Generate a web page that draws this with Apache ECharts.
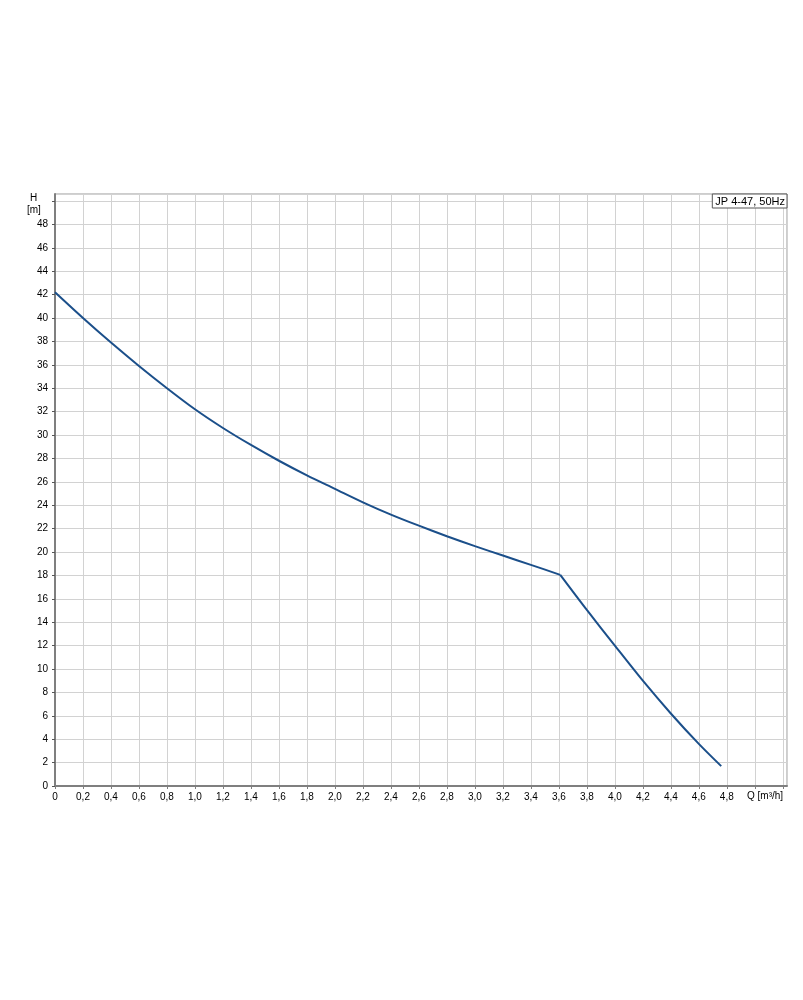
<!DOCTYPE html>
<html>
<head>
<meta charset="utf-8">
<script src="https://cdn.jsdelivr.net/npm/echarts@6/dist/echarts.min.js"></script>
<style>
html,body{margin:0;padding:0;background:#fff;}
#chart{width:803px;height:1000px;}
</style>
</head>
<body>
<div id="chart"></div>
<script>
var seriesName = 'JP 4-47, 50Hz';
// segment before the kink and after it (kink point shared)
var flowQ1 = [0, 0.2, 0.4, 0.6, 0.8, 1.0, 1.2, 1.4, 1.6, 1.8, 2.0, 2.2, 2.4, 2.6, 2.8, 3.0, 3.2, 3.4, 3.61];
var headH1 = [42.2, 40.0, 37.9, 35.9, 34.0, 32.2, 30.6, 29.15, 27.8, 26.55, 25.4, 24.25, 23.2, 22.25, 21.35, 20.5, 19.7, 18.9, 18.05];
var flowQ2 = [3.61, 3.8, 4.0, 4.2, 4.4, 4.6, 4.76];
var headH2 = [18.05, 15.05, 12.0, 9.0, 6.2, 3.6, 1.7];
var xAxisMax = 5.23, xLabelMax = 4.8;
var yAxisMax = 50.6, yLabelMax = 48;
var xAxisTitle = 'Q [m³/h]';
var yAxisTitle = 'H';
var yAxisUnit = '[m]';

function pairs(xs, ys) { return xs.map(function (q, i) { return [q, ys[i]]; }); }

var chart = echarts.init(document.getElementById('chart'));
var font = 'Liberation Sans, Arial, sans-serif';
var lineColor = '#1b4f8a';
chart.setOption({
  animation: false,
  backgroundColor: '#fff',
  grid: {left: 55, right: 16, top: 194, bottom: 214, show: true, borderColor: '#9a9a9a', borderWidth: 1, backgroundColor: 'transparent'},
  legend: {
    data: [{name: seriesName, icon: 'none'}],
    right: 16, top: 194, itemWidth: 0, itemHeight: 0, itemGap: 0,
    padding: [2, 2, 1, 0], borderColor: '#555', borderWidth: 1, backgroundColor: '#fff',
    selectedMode: false,
    textStyle: {fontFamily: font, fontSize: 11, color: '#000', padding: [0, 0, 0, -2]}
  },
  xAxis: {
    type: 'value', min: 0, max: xAxisMax, interval: 0.2,
    axisLine: {show: true, lineStyle: {color: '#7f7f7f', width: 2}},
    axisTick: {show: true, length: 3, lineStyle: {color: '#7f7f7f'}},
    splitLine: {show: true, lineStyle: {color: '#d2d2d2', width: 1}},
    axisLabel: {
      margin: 6, fontFamily: font, fontSize: 10, color: '#000', showMaxLabel: false,
      formatter: function (v) {
        if (v > xLabelMax + 1e-6) return '';
        if (v === 0) return '0';
        return v.toFixed(1).replace('.', ',');
      }
    }
  },
  yAxis: {
    type: 'value', min: 0, max: yAxisMax, interval: 2,
    axisLine: {show: true, lineStyle: {color: '#7f7f7f', width: 2}},
    axisTick: {show: true, length: 3, lineStyle: {color: '#555'}},
    splitLine: {show: true, lineStyle: {color: '#d2d2d2', width: 1}},
    axisLabel: {
      margin: 7, fontFamily: font, fontSize: 10, color: '#000', showMaxLabel: false,
      formatter: function (v) { return v > yLabelMax + 1e-6 ? '' : String(v); }
    }
  },
  graphic: [
    {type: 'text', left: 30, top: 193, style: {text: yAxisTitle, font: '10px ' + font, fill: '#000'}},
    {type: 'text', left: 27, top: 205, style: {text: yAxisUnit, font: '10px ' + font, fill: '#000'}},
    {type: 'text', left: 747, top: 791, style: {text: xAxisTitle, font: '10px ' + font, fill: '#000'}}
  ],
  series: [{
    name: seriesName, type: 'line', showSymbol: false, symbol: 'none', smooth: 0.3,
    lineStyle: {color: lineColor, width: 2}, itemStyle: {color: lineColor},
    data: pairs(flowQ1, headH1)
  }, {
    name: seriesName, type: 'line', showSymbol: false, symbol: 'none', smooth: 0.3,
    lineStyle: {color: lineColor, width: 2}, itemStyle: {color: lineColor},
    data: pairs(flowQ2, headH2)
  }]
});
</script>
</body>
</html>
